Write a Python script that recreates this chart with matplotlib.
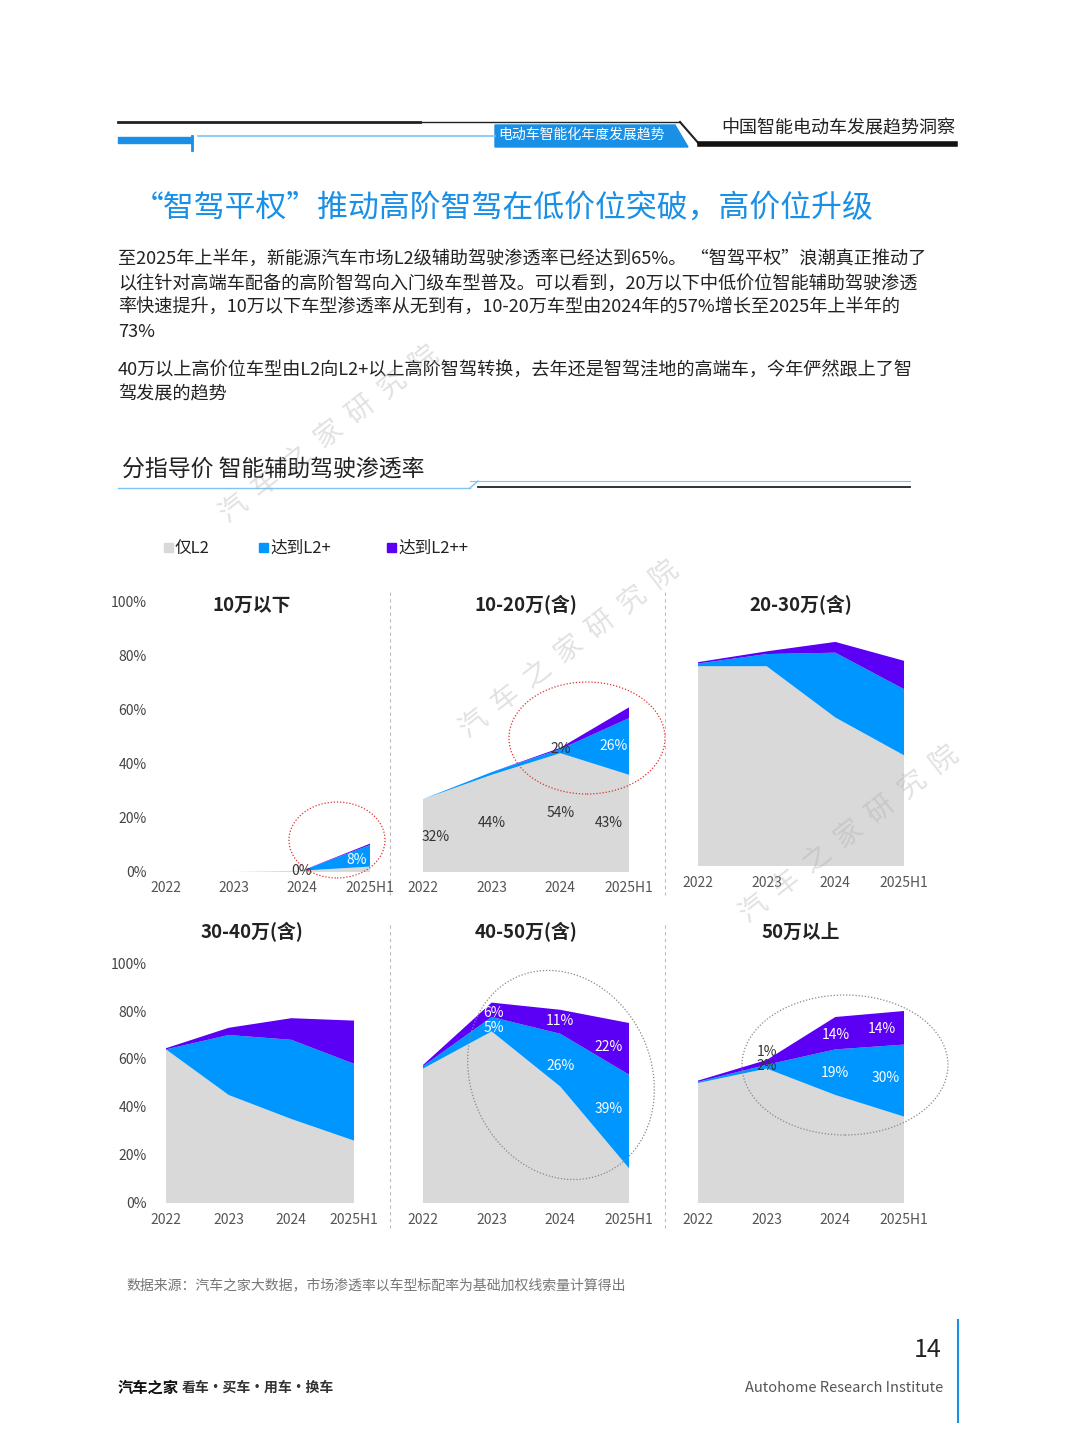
import matplotlib
matplotlib.use("Agg")
import matplotlib.pyplot as plt
from matplotlib.patches import Ellipse, Rectangle, Polygon
from matplotlib.transforms import IdentityTransform

plt.rcParams["font.family"] = ["Noto Sans CJK SC", "DejaVu Sans"]

years = ["2022", "2023", "2024", "2025H1"]
legend_names = ["仅L2", "达到L2+", "达到L2++"]
colors = ["#d9d9d9", "#0096ff", "#5b00f5"]

panel_titles = ["10万以下", "10-20万(含)", "20-30万(含)", "30-40万(含)", "40-50万(含)", "50万以上"]
only_l2 = [[0, 0, 0.5, 2], [27, 36, 44, 36], [74, 74, 55, 41],
           [64, 45, 35, 26], [56, 71.5, 48.5, 14.5], [50, 56, 45, 36]]
l2_plus = [[0, 0, 0, 8], [0, 1, 1.5, 21], [1, 4.5, 24, 24.5],
           [0, 25, 33, 32], [1, 6, 22, 39], [0.5, 1.6, 19, 30]]
l2_pp = [[0, 0, 0, 0.5], [0, 0, 0.5, 4], [0.5, 1, 4, 10.5],
         [0.5, 3, 9, 18], [0.5, 6, 10, 21.5], [0.5, 2, 13.5, 14]]

# data labels: (panel, x index, y %, text, color)
labels = [
    (0, 2.0, 0.5, "0%", "#333333"), (0, 2.8, 4.5, "8%", "white"),
    (1, 0.19, 13, "32%", "#333333"), (1, 1.0, 18, "44%", "#333333"),
    (1, 2.0, 22, "54%", "#333333"), (1, 2.7, 18, "43%", "#333333"),
    (1, 2.0, 45.5, "2%", "#333333"), (1, 2.77, 46.5, "26%", "white"),
    (4, 1.03, 79, "6%", "white"), (4, 1.03, 73, "5%", "white"),
    (4, 2.0, 76, "11%", "white"), (4, 2.7, 65, "22%", "white"),
    (4, 2.0, 57, "26%", "white"), (4, 2.7, 39, "39%", "white"),
    (5, 1.0, 63, "1%", "#333333"), (5, 1.0, 57, "2%", "#333333"),
    (5, 2.0, 70, "14%", "white"), (5, 2.67, 72.5, "14%", "white"),
    (5, 2.0, 54, "19%", "white"), (5, 2.74, 52, "30%", "white"),
]

W, H = 1080, 1440


def fx(x):
    return x / W


def fy(y):
    return 1 - y / H


fig = plt.figure(figsize=(10.8, 14.4), dpi=100)
fig.patch.set_facecolor("white")


def line(x0, x1, y0, y1, **kw):
    fig.add_artist(plt.Line2D([fx(x0), fx(x1)], [fy(y0), fy(y1)], transform=fig.transFigure, **kw))


# header decoration
line(118, 420, 122, 122, color="#222222", lw=2)
fig.add_artist(Rectangle((fx(118), fy(143)), fx(74), 6 / H, transform=fig.transFigure, color="#1a8fe6"))
line(198, 495, 136, 136, color="#7cc4f5", lw=1.2)
line(192, 192, 136, 150, color="#1a8fe6", lw=2)
fig.add_artist(Polygon([(fx(495), fy(125)), (fx(675), fy(125)), (fx(688), fy(147)), (fx(495), fy(147))],
                       closed=True, transform=fig.transFigure, color="#1a8fe6"))
fig.text(fx(582), fy(135), "电动车智能化年度发展趋势", color="white", fontsize=10, ha="center", va="center")
line(420, 680, 122, 122, color="#222222", lw=1)
line(680, 700, 122, 145, color="#222222", lw=1.5)
line(700, 955, 144, 144, color="#111111", lw=4)
fig.text(fx(955), fy(128), "中国智能电动车发展趋势洞察", fontsize=13, ha="right", va="center", color="#222222")

fig.text(fx(133), fy(208), "“智驾平权”推动高阶智驾在低价位突破，高价位升级", fontsize=22.2,
         color="#1a8fe6", ha="left", va="center")

para = ("至2025年上半年，新能源汽车市场L2级辅助驾驶渗透率已经达到65%。 “智驾平权”浪潮真正推动了\n"
        "以往针对高端车配备的高阶智驾向入门级车型普及。可以看到，20万以下中低价位智能辅助驾驶渗透\n"
        "率快速提升，10万以下车型渗透率从无到有，10-20万车型由2024年的57%增长至2025年上半年的\n"
        "73%")
fig.text(fx(118), fy(251), para, fontsize=13.1, color="#222222", ha="left", va="top", linespacing=1.42)
para2 = ("40万以上高价位车型由L2向L2+以上高阶智驾转换，去年还是智驾洼地的高端车，今年俨然跟上了智\n"
         "驾发展的趋势")
fig.text(fx(118), fy(362), para2, fontsize=13.1, color="#222222", ha="left", va="top", linespacing=1.42)

fig.text(fx(122), fy(469), "分指导价 智能辅助驾驶渗透率", fontsize=16.5, color="#222222", ha="left", va="center")
line(118, 470, 488, 488, color="#7cc4f5", lw=1)
line(470, 478, 488, 481, color="#7cc4f5", lw=1)
line(478, 910, 487, 487, color="#222222", lw=1.3)
line(470, 910, 481, 481, color="#7cc4f5", lw=0.8)

# legend
for (lx, name, c) in zip([168, 263, 391], legend_names, colors):
    fig.add_artist(Rectangle((fx(lx - 4), fy(552)), 9 / W, 9 / H, transform=fig.transFigure, color=c))
    fig.text(fx(lx + 7), fy(548), name, fontsize=12, ha="left", va="center", color="#222222")

# panels: (left px, right px, y0 px, y100 px, tick label y, title y)
boxes = [(166, 370, 872, 602, 888, 605), (423, 629, 872, 602, 888, 605), (698, 904, 866, 596, 883, 605),
         (166, 354, 1203, 963, 1220, 932), (423, 629, 1203, 963, 1220, 932), (698, 904, 1203, 963, 1220, 932)]
axes = []
for i, (l, r, y0, y1, ty, tty) in enumerate(boxes):
    ax = fig.add_axes([fx(l), fy(y0), (r - l) / W, (y0 - y1) / H])
    xs = range(len(years))
    ax.stackplot(xs, only_l2[i], l2_plus[i], l2_pp[i], colors=colors, lw=0)
    ax.set_xlim(0, 3)
    ax.set_ylim(0, 100)
    ax.set_xticks([])
    if i in (0, 3):
        ax.set_yticks([0, 20, 40, 60, 80, 100])
        ax.set_yticklabels([f"{v}%" for v in [0, 20, 40, 60, 80, 100]], fontsize=10, color="#444444")
        ax.tick_params(axis="y", length=0, pad=14)
    else:
        ax.set_yticks([])
    ax.patch.set_alpha(0)
    for s in ax.spines.values():
        s.set_visible(False)
    for k, yr in enumerate(years):
        xp = l + (r - l) * k / 3
        fig.text(fx(xp), fy(ty), yr, fontsize=10, color="#555555", ha="center", va="center")
    fig.text(fx((l + r) / 2 if i not in (0, 3) else 252), fy(tty), panel_titles[i], fontsize=13.5,
             fontweight="bold", ha="center", va="center", color="#222222")
    axes.append(ax)

for p, xi, yv, txt, c in labels:
    axes[p].text(xi, yv, txt, fontsize=10, color=c, ha="center", va="center")

# separators
for xs_ in (390, 665):
    line(xs_, xs_, 592, 895, color="#bbbbbb", lw=0.8, ls=(0, (3, 3)))
    line(xs_, xs_, 925, 1228, color="#bbbbbb", lw=0.8, ls=(0, (3, 3)))

# highlight circles (pixel coordinates)
for cx, cy, w, h, ang, c in [(337, 840, 96, 76, 0, "#e03030"), (587, 738, 156, 112, 0, "#e03030"),
                              (561, 1075, 180, 215, 25, "#888888"), (845, 1065, 206, 140, 0, "#888888")]:
    fig.add_artist(Ellipse((cx, H - cy), w, h, angle=ang, transform=IdentityTransform(),
                           fill=False, ec=c, lw=0.9, ls=(0, (1, 1.5))))

# watermark
for wx, wy in [(180, 555), (420, 770), (700, 955)]:
    fig.text(fx(wx + 150), fy(wy - 120), "汽  车  之  家  研  究  院", fontsize=20, color="#aaaaaa",
             alpha=0.35, rotation=38, ha="center", va="center")

fig.text(fx(126), fy(1285), "数据来源：汽车之家大数据，市场渗透率以车型标配率为基础加权线索量计算得出",
         fontsize=10, color="#777777", ha="left", va="center")
fig.text(fx(941), fy(1350), "14", fontsize=18, color="#222222", ha="right", va="center")
fig.text(fx(943), fy(1388), "Autohome Research Institute", fontsize=10.5, color="#555555", ha="right", va="center")
line(958, 958, 1320, 1422, color="#1a8fe6", lw=1.5)
fig.text(fx(118), fy(1388), "汽车之家", fontsize=11, fontweight="bold", ha="left", va="center", color="#111111")
fig.text(fx(182), fy(1388), "看车·买车·用车·换车", fontsize=10, fontweight="bold", ha="left", va="center",
         color="#333333")

fig.savefig("out.png", dpi=100)
